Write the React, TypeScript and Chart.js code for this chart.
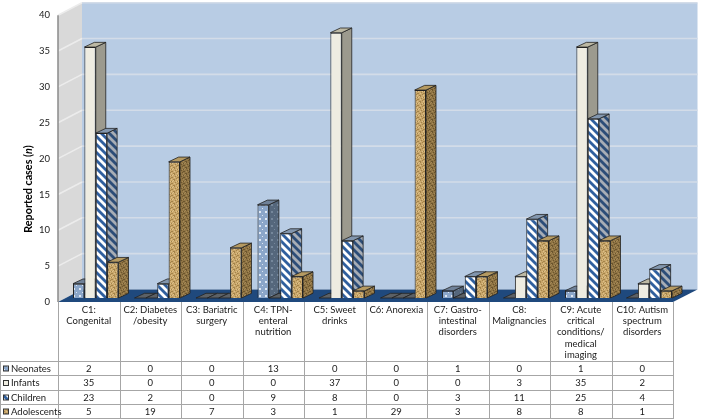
import React, { useEffect, useRef } from "react";
import { Chart, registerables } from "chart.js";

Chart.register(...registerables);

const categories: string[][] = [
  ["C1:", "Congenital"],
  ["C2: Diabetes", "/obesity"],
  ["C3: Bariatric", "surgery"],
  ["C4: TPN-", "enteral", "nutrition"],
  ["C5: Sweet", "drinks"],
  ["C6: Anorexia"],
  ["C7: Gastro-", "intestinal", "disorders"],
  ["C8:", "Malignancies"],
  ["C9: Acute", "critical", "conditions/", "medical", "imaging"],
  ["C10: Autism", "spectrum", "disorders"],
];
const neonates = [2, 0, 0, 13, 0, 0, 1, 0, 1, 0];
const infants = [35, 0, 0, 0, 37, 0, 0, 3, 35, 2];
const children = [23, 2, 0, 9, 8, 0, 3, 11, 25, 4];
const adolescents = [5, 19, 7, 3, 1, 29, 3, 8, 8, 1];
const seriesNames = ["Neonates", "Infants", "Children", "Adolescents"];
const yTicks = [0, 5, 10, 15, 20, 25, 30, 35, 40];

const FONT = "Lato";
const W = 702;
const H = 419;
const DX = 10;
const DY = -4.7;
const rowLines = [361, 375, 390, 404, 418];
const colLeft = 58;
const colWidth = 61.5;

function tile(w: number, h: number, paint: (c: CanvasRenderingContext2D) => void) {
  const cv = document.createElement("canvas");
  cv.width = w;
  cv.height = h;
  const c = cv.getContext("2d")!;
  paint(c);
  return document.createElement("canvas").getContext("2d")!.createPattern(cv, "repeat")!;
}
function dots(bg: string, fg: string) {
  return tile(6, 7, (c) => {
    c.fillStyle = bg;
    c.fillRect(0, 0, 6, 7);
    c.fillStyle = fg;
    c.fillRect(1, 1, 2, 2);
    c.fillRect(4, 5, 1, 1);
  });
}
function stripes(bg: string, fg: string) {
  return tile(8, 8, (c) => {
    c.fillStyle = bg;
    c.fillRect(0, 0, 8, 8);
    c.strokeStyle = fg;
    c.lineWidth = 2.8;
    for (const o of [-8, 0, 8]) {
      c.beginPath();
      c.moveTo(o - 1, -1);
      c.lineTo(o + 9, 9);
      c.stroke();
    }
  });
}
function speckle(bg: string, dark: string, light: string) {
  const darkPx = [[0, 0], [3, 1], [1, 2], [4, 3], [2, 4], [0, 5], [5, 5], [3, 3]];
  const lightPx = [[2, 1], [5, 0], [0, 3], [3, 5], [4, 1]];
  return tile(6, 6, (c) => {
    c.fillStyle = bg;
    c.fillRect(0, 0, 6, 6);
    c.fillStyle = dark;
    darkPx.forEach(([x, y]) => c.fillRect(x, y, 1, 1));
    c.fillStyle = light;
    lightPx.forEach(([x, y]) => c.fillRect(x, y, 1, 1));
  });
}

export default function App() {
  const ref = useRef<HTMLCanvasElement>(null);
  useEffect(() => {
    const fronts = [
      dots("#8ba6c9", "#dfe8f3"),
      "#eeece1",
      stripes("#ffffff", "#2f5f9e"),
      speckle("#c9a76b", "#a3834a", "#dcc08a"),
    ];
    const sides = [
      dots("#55677c", "#75879b"),
      "#9c9a8e",
      stripes("#a7adb5", "#2c4d78"),
      speckle("#8f7444", "#6b552e", "#a68a58"),
    ];
    const tops = ["#6f8198", "#bdb9a4", "#8296ae", "#b59a62"];

    const backdrop = {
      id: "backdrop",
      beforeDraw(chart: any) {
        const { ctx } = chart;
        const y = chart.scales.y;
        ctx.save();
        ctx.fillStyle = "#ffffff";
        ctx.fillRect(0, 0, W, H);
        const y0 = y.getPixelForValue(0);
        const y40 = y.getPixelForValue(40);
        const backR = 697.5;
        const frontR = 673;
        const poly = (pts: number[][], fill: string) => {
          ctx.beginPath();
          pts.forEach(([a, b], i) => (i ? ctx.lineTo(a, b) : ctx.moveTo(a, b)));
          ctx.closePath();
          ctx.fillStyle = fill;
          ctx.fill();
        };
        poly([[58, y40 + 4], [82, y40 - 8.5], [82, y0 - 8.5], [58, y0 + 4]], "#d9d9d9");
        poly([[82, y40 - 8.5], [backR, y40 - 8.5], [backR, y0 - 8.5], [82, y0 - 8.5]], "#b8cce4");
        poly([[58, y0 + 4], [82, y0 - 8.5], [backR, y0 - 8.5], [frontR, y0 + 4]], "#1f497d");
        yTicks.slice(1).forEach((v) => {
          const p = y.getPixelForValue(v);
          ctx.lineWidth = 1.6;
          ctx.strokeStyle = "#ececec";
          ctx.beginPath();
          ctx.moveTo(58, p + 4);
          ctx.lineTo(82, p - 8.5);
          ctx.stroke();
          ctx.strokeStyle = "#d3dce8";
          ctx.beginPath();
          ctx.moveTo(82, p - 8.5);
          ctx.lineTo(backR, p - 8.5);
          ctx.stroke();
        });

        // value table below the plot
        ctx.strokeStyle = "#a6a6a6";
        ctx.lineWidth = 1;
        for (let i = 0; i <= categories.length; i++) {
          const x = Math.round(colLeft + i * colWidth) + 0.5;
          ctx.beginPath();
          ctx.moveTo(x, y0 + 4);
          ctx.lineTo(x, H);
          ctx.stroke();
        }
        ctx.beginPath();
        ctx.moveTo(0.5, rowLines[0]);
        ctx.lineTo(0.5, H);
        ctx.stroke();
        rowLines.forEach((r) => {
          ctx.beginPath();
          ctx.moveTo(0, r + 0.5);
          ctx.lineTo(frontR + 1, r + 0.5);
          ctx.stroke();
        });
        ctx.strokeStyle = "#8a8a8a";
        ctx.lineWidth = 1.5;
        ctx.beginPath();
        ctx.moveTo(58, y40 + 4);
        ctx.lineTo(58, y0 + 4);
        ctx.stroke();

        ctx.textBaseline = "middle";
        ctx.font = `9.5px ${FONT}`;
        chart.data.datasets.forEach((ds: any, s: number) => {
          const cy = (rowLines[s] + rowLines[s + 1]) / 2 + 0.5;
          ctx.textAlign = "center";
          ctx.fillStyle = "#1a1a1a";
          ds.data.forEach((v: number, i: number) => {
            ctx.fillText(String(v), colLeft + (i + 0.5) * colWidth, cy);
          });
          ctx.textAlign = "left";
          ctx.fillText(ds.label, 11, cy);
          ctx.fillStyle = fronts[s];
          ctx.fillRect(3.5, cy - 2.5, 5, 5);
          ctx.strokeStyle = "#333";
          ctx.lineWidth = 1;
          ctx.strokeRect(3.5, cy - 2.5, 5, 5);
        });

        // axis title with the italic n
        ctx.translate(29, 189);
        ctx.rotate(-Math.PI / 2);
        ctx.textAlign = "left";
        ctx.fillStyle = "#000";
        const a = "Reported cases (";
        const b = "n";
        const c = ")";
        const boldF = `bold 10.8px ${FONT}`;
        const italF = `italic bold 10.8px ${FONT}`;
        ctx.font = boldF;
        const wa = ctx.measureText(a).width;
        const wc = ctx.measureText(c).width;
        ctx.font = italF;
        const wb = ctx.measureText(b).width;
        let x = -(wa + wb + wc) / 2;
        ctx.font = boldF;
        ctx.fillText(a, x, 0);
        x += wa;
        ctx.font = italF;
        ctx.fillText(b, x, 0);
        x += wb;
        ctx.font = boldF;
        ctx.fillText(c, x, 0);
        ctx.restore();
      },
      beforeDatasetsDraw(chart: any) {
        const { ctx } = chart;
        ctx.save();
        ctx.strokeStyle = "#222";
        ctx.lineWidth = 0.8;
        const shape = (pts: number[][], fill: any) => {
          ctx.beginPath();
          pts.forEach(([a, b], i) => (i ? ctx.lineTo(a, b) : ctx.moveTo(a, b)));
          ctx.closePath();
          ctx.fillStyle = fill;
          ctx.fill();
          ctx.stroke();
        };
        categories.forEach((_, i) => {
          chart.data.datasets.forEach((_ds: any, s: number) => {
            const bar = chart.getDatasetMeta(s).data[i];
            const l = bar.x - bar.width / 2;
            const r = bar.x + bar.width / 2;
            const top = bar.y;
            const base = bar.base;
            const zero = top === base;
            if (!zero) {
              shape([[r, top], [r + DX, top + DY], [r + DX, base + DY], [r, base]], sides[s]);
            }
            shape(
              [[l, top], [l + DX, top + DY], [r + DX, top + DY], [r, top]],
              zero ? "#5c6166" : tops[s],
            );
          });
        });
        ctx.restore();
      },
    };

    const chart = new Chart(ref.current!, {
      type: "bar",
      data: {
        labels: categories,
        datasets: [neonates, infants, children, adolescents].map((data, s) => ({
          label: seriesNames[s],
          data,
          backgroundColor: fronts[s],
          borderColor: "#222",
          borderWidth: 1,
          barPercentage: 1,
          categoryPercentage: 0.74,
        })),
      },
      options: {
        responsive: false,
        animation: false,
        layout: { padding: { top: 11.2, right: 22, left: 0, bottom: 0 } },
        plugins: { legend: { display: false }, tooltip: { enabled: false } },
        scales: {
          x: {
            grid: { display: false, drawTicks: false },
            border: { display: false },
            afterFit: (s: any) => {
              s.height = 121;
              s.paddingLeft = 0;
              s.paddingRight = 0;
            },
            ticks: {
              autoSkip: false,
              maxRotation: 0,
              minRotation: 0,
              padding: 6,
              labelOffset: -7,
              color: "#1a1a1a",
              font: { family: FONT, size: 9.5, lineHeight: 1.19 },
            },
          },
          y: {
            min: 0,
            max: 40,
            grid: { display: false, drawTicks: false },
            border: { display: false },
            afterFit: (s: any) => {
              s.width = 65;
              s.paddingTop = 0;
              s.paddingBottom = 0;
            },
            ticks: {
              stepSize: 5,
              padding: 15,
              labelOffset: 4,
              color: "#1a1a1a",
              font: { family: FONT, size: 9.5 },
            },
          },
        },
      },
      plugins: [backdrop],
    } as any);
    return () => chart.destroy();
  }, []);
  return (
    <canvas
      ref={ref}
      width={W}
      height={H}
      style={{ position: "absolute", left: 0, top: 0, width: W, height: H, display: "block" }}
    />
  );
}
